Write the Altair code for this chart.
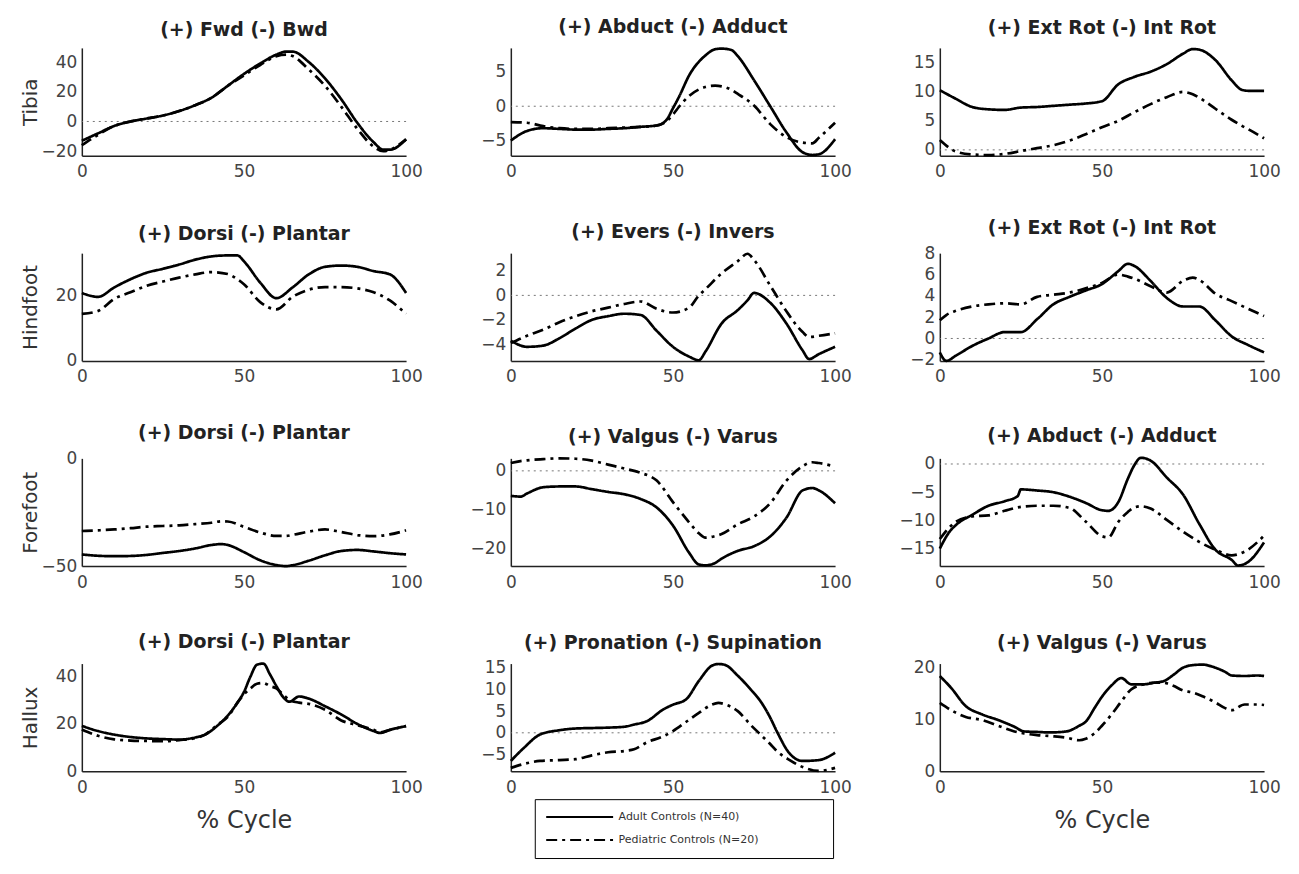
import altair as alt
import pandas as pd

SERIES = ["Adult Controls (N=40)", "Pediatric Controls (N=20)"]
X_TICKS = [0, 50, 100]
FONT = "DejaVu Sans"

# ---------------- Tibia ----------------
TIB_FB_X = [0, 5, 10, 15, 20, 25, 30, 35, 40, 45, 50, 55, 60, 63, 65, 70, 75, 80, 85, 90, 93, 95, 100]
TIB_FB_ADULT = [-13, -8, -3, 0, 2, 4, 7, 11, 16, 24, 32, 39, 45, 47, 47, 40, 29, 15, -1, -14, -19, -19, -12]
TIB_FB_PED = [-16, -9, -3, 0, 2, 4, 7, 11, 16, 24, 31, 38, 44, 45, 44, 35, 24, 10, -5, -17, -20, -19, -12]

TIB_AB_X = [0, 5, 10, 15, 20, 25, 30, 35, 40, 45, 48, 50, 52, 55, 60, 63, 65, 68, 70, 75, 80, 85, 90, 93, 95, 100]
TIB_AB_ADULT = [-5.0, -3.6, -3.2, -3.3, -3.4, -3.4, -3.3, -3.2, -3.0, -2.8, -2.0, -0.3, 1.5, 4.5, 7.4, 8.3, 8.4, 8.2, 7.3, 3.8, 0.0, -3.8, -6.7, -7.1, -7.0, -4.8]
TIB_AB_PED = [-2.3, -2.4, -2.9, -3.2, -3.3, -3.3, -3.2, -3.1, -3.0, -2.8, -2.2, -1.2, 0.0, 1.5, 2.8, 3.0, 2.9, 2.4, 1.8, 0.1, -2.6, -4.5, -5.3, -5.4, -4.6, -2.4]

TIB_ER_X = [0, 5, 10, 15, 20, 25, 30, 35, 40, 45, 50, 55, 60, 65, 70, 75, 78, 80, 85, 90, 93, 95, 100]
TIB_ER_ADULT = [10.3, 8.8, 7.4, 7.0, 6.9, 7.3, 7.4, 7.6, 7.8, 8.0, 8.4, 11.3, 12.6, 13.5, 14.8, 16.6, 17.4, 17.3, 15.5, 12.0, 10.4, 10.2, 10.2]
TIB_ER_PED = [1.7, -0.3, -0.8, -0.9, -0.7, -0.2, 0.3, 0.8, 1.6, 2.7, 3.9, 5.0, 6.5, 7.9, 9.1, 10.0, 9.6, 9.0, 7.1, 5.2, 4.2, 3.6, 2.0]

# ---------------- Hindfoot ----------------
HIN_DP_X = [0, 5, 10, 15, 20, 25, 30, 35, 40, 45, 48, 50, 55, 60, 65, 70, 75, 80, 85, 90, 95, 100]
HIN_DP_ADULT = [20.8, 19.6, 22.5, 25, 27, 28.2, 29.5, 31, 32, 32.3, 32.3, 30.5, 24, 19.2, 22.5, 26.5, 28.8, 29.2, 28.8, 27.5, 26.5, 20.8]
HIN_DP_PED = [14.4, 15.3, 19, 21, 23, 24.3, 25.5, 26.5, 27.2, 26.6, 25, 23.5, 18, 15.8, 19.6, 21.8, 22.6, 22.6, 22.2, 21, 18.5, 14.4]

HIN_EV_X = [0, 5, 10, 15, 20, 25, 30, 35, 40, 45, 50, 55, 58, 60, 65, 70, 73, 75, 80, 85, 90, 92, 95, 100]
HIN_EV_ADULT = [-3.7, -4.2, -4.1, -3.5, -2.7, -2.0, -1.7, -1.5, -1.6, -2.9, -4.2, -5.0, -5.3, -4.6, -2.3, -1.2, -0.4, 0.2, -0.6, -2.3, -4.5, -5.2, -4.8, -4.2]
HIN_EV_PED = [-3.9, -3.3, -2.8, -2.2, -1.7, -1.3, -1.0, -0.7, -0.5, -1.1, -1.4, -1.0, 0.0, 0.5, 1.8, 2.8, 3.4, 2.9, 0.8, -1.3, -3.0, -3.4, -3.3, -3.1]

HIN_ER_X = [0, 2, 5, 10, 15, 20, 25, 30, 35, 40, 45, 50, 55, 58, 60, 65, 70, 75, 78, 80, 85, 90, 95, 100]
HIN_ER_ADULT = [-1.3, -2.1, -1.6, -0.7, 0.0, 0.6, 0.6, 1.8, 3.2, 3.9, 4.5, 5.1, 6.3, 7.0, 6.8, 5.4, 3.8, 3.0, 3.0, 3.0, 1.7, 0.2, -0.6, -1.3]
HIN_ER_PED = [1.7, 2.2, 2.6, 3.0, 3.2, 3.3, 3.2, 3.9, 4.1, 4.3, 4.7, 5.2, 6.0, 5.8, 5.6, 4.9, 4.3, 5.4, 5.7, 5.5, 4.2, 3.5, 2.8, 2.1]

# ---------------- Forefoot ----------------
FOR_DP_X = [0, 5, 10, 15, 20, 25, 30, 35, 40, 43, 45, 50, 55, 60, 63, 65, 70, 75, 80, 85, 90, 95, 100]
FOR_DP_ADULT = [-44.6, -45.2, -45.4, -45.3, -44.8, -43.9, -43.0, -41.8, -40.2, -39.8, -40.2, -43.5, -47.3, -49.5, -50.0, -49.6, -47.5, -45.0, -43.0, -42.5, -43.2, -44.0, -44.6]
FOR_DP_PED = [-33.7, -33.4, -33.0, -32.4, -31.7, -31.4, -31.1, -30.5, -29.9, -29.2, -29.3, -31.8, -34.4, -36.0, -36.0, -35.5, -34.0, -33.0, -34.2, -35.6, -36.1, -35.3, -33.4]

FOR_VV_X = [0, 3, 5, 10, 15, 20, 25, 30, 35, 40, 45, 50, 55, 58, 60, 63, 65, 70, 75, 80, 85, 90, 93, 95, 100]
FOR_VV_ADULT = [-6.4, -6.6, -5.8, -4.2, -4.0, -4.0, -4.7, -5.4, -6.0, -7.2, -9.4, -14.0, -21.0, -24.0, -24.2, -23.6, -22.5, -20.5, -19.3, -16.8, -12.0, -5.0, -4.4, -5.0, -8.3]
FOR_VV_PED = [2.0, 2.5, 2.7, 3.0, 3.2, 3.1, 2.6, 1.6, 0.6, -0.5, -2.5, -8.0, -13.2, -16.0, -17.1, -16.7, -16.2, -13.7, -11.7, -8.3, -2.5, 1.2, 2.2, 2.0, 1.1]

FOR_AB_X = [0, 3, 5, 10, 15, 20, 24, 25, 30, 35, 40, 45, 50, 52, 55, 58, 60, 62, 65, 70, 75, 80, 85, 90, 92, 95, 100]
FOR_AB_ADULT = [-15.0, -12.0, -10.8, -9.0, -7.4, -6.6, -5.7, -4.5, -4.7, -5.0, -5.8, -6.9, -8.2, -8.3, -6.8, -2.6, -0.2, 1.1, 0.6, -2.4, -5.4, -10.6, -15.2, -17.0, -18.0, -17.4, -13.9]
FOR_AB_PED = [-13.3, -11.2, -10.2, -9.3, -9.1, -8.3, -7.7, -7.6, -7.4, -7.4, -7.8, -10.2, -12.8, -13.0, -10.3, -8.5, -7.7, -7.5, -7.9, -9.9, -12.0, -13.8, -15.2, -16.2, -16.0, -15.2, -12.7]

# ---------------- Hallux ----------------
HAL_DP_X = [0, 5, 10, 15, 20, 25, 30, 35, 38, 42, 45, 48, 50, 52, 54, 56, 58, 60, 62, 64, 67, 70, 75, 80, 85, 90, 92, 95, 100]
HAL_DP_ADULT = [19.2, 17, 15.5, 14.5, 13.9, 13.6, 13.4, 14.3, 15.5, 19.5, 23.5, 29, 33.5, 40, 45, 45.5, 41, 36, 31.5, 29.4, 31.6, 30.7, 27.5, 24, 20, 17, 16.2, 17.5, 19.1]
HAL_DP_PED = [17.7, 15, 13.5, 13, 12.8, 12.7, 13.2, 14, 15.5, 19.8, 23, 29, 32.5, 35, 37, 37.3, 36, 35, 32.5, 30.2, 29, 28.5, 26, 21.5, 19.5, 17.5, 16.5, 17.5, 19.1]

HAL_PS_X = [0, 4, 9, 15, 20, 25, 30, 35, 38, 42, 47, 50, 54, 58, 62, 64, 66, 70, 74, 77, 80, 82, 86, 90, 95, 100]
HAL_PS_ADULT = [-6.5, -3.5, -0.4, 0.6, 1.0, 1.1, 1.2, 1.4, 1.9, 2.7, 5.4, 6.5, 7.7, 12.0, 15.5, 15.9, 15.7, 13.2, 10.0, 7.3, 3.5, 0.4, -4.8, -6.5, -6.3, -4.6]
HAL_PS_PED = [-8.1, -7.2, -6.5, -6.3, -6.1, -5.2, -4.5, -4.2, -3.8, -2.2, -0.8, 0.4, 2.5, 4.6, 6.5, 6.9, 6.6, 5.0, 1.8, -0.4, -2.6, -4.2, -6.3, -7.9, -8.8, -8.1]

HAL_VV_X = [0, 3.5, 8, 13, 18, 23, 26, 30, 34, 39, 43, 45, 48, 50, 53, 56, 59, 63, 66, 69, 72, 75, 78, 81, 85, 88, 90, 94, 98, 100]
HAL_VV_ADULT = [18.4, 16.1, 12.6, 11.0, 9.9, 8.6, 7.7, 7.6, 7.5, 7.7, 8.8, 9.6, 12.5, 14.4, 16.6, 18.0, 16.8, 16.8, 17.1, 17.4, 18.6, 20.0, 20.5, 20.6, 20.0, 19.2, 18.5, 18.4, 18.5, 18.4]
HAL_VV_PED = [13.2, 11.8, 10.5, 9.9, 8.8, 7.7, 7.3, 7.0, 6.8, 6.5, 6.0, 6.3, 7.5, 8.8, 11.0, 13.5, 15.8, 16.8, 17.1, 17.1, 16.5, 15.6, 15.2, 14.5, 13.3, 12.2, 11.8, 12.9, 12.9, 12.8]

# ---------------- layout helpers ----------------
PANEL_W = 325
PANEL_H = 108

# blank (non-whitespace) padding so the legend box is as wide as the original one
LEGEND_PAD = "\u2800" * 8

legend = alt.Legend(
    title=None, orient="none", legendX=454, legendY=753, direction="vertical",
    symbolType="stroke", symbolSize=4500, symbolStrokeWidth=2, clipHeight=16,
    symbolStrokeColor="black", labelFont=FONT, labelFontSize=11, labelColor="#333",
    labelExpr="datum.label + '" + LEGEND_PAD + "'", labelLimit=400,
    strokeColor="black", fillColor="white", padding=10, rowPadding=7,
)

dash_scale = alt.Scale(domain=SERIES, range=[[1, 0], [11, 5, 3, 5]])


def make_panel(title, xs, adult, ped, domain, yticks, row_title=None, x_title=None, zero_line=True):
    df = pd.DataFrame({
        "x": list(xs) + list(xs),
        "y": list(adult) + list(ped),
        "series": [SERIES[0]] * len(xs) + [SERIES[1]] * len(xs),
    })
    yscale = alt.Scale(domain=domain, nice=False, zero=False)
    xscale = alt.Scale(domain=[0, 100], nice=False)
    if row_title:
        yaxis = alt.Axis(values=yticks, title=row_title, titleX=-51, titleY=PANEL_H / 2,
                         titleBaseline="middle", titleAlign="center", titleFontSize=20,
                         titleFontWeight="normal", titleColor="#333")
    else:
        yaxis = alt.Axis(values=yticks, title=None)
    if x_title:
        xaxis = alt.Axis(values=X_TICKS, title=x_title, titleFontSize=24, titlePadding=13,
                         titleFontWeight="normal", titleColor="#333")
    else:
        xaxis = alt.Axis(values=X_TICKS, title=None)

    lines = alt.Chart(df).mark_line(color="black", strokeWidth=2.7, interpolate="monotone").encode(
        x=alt.X("x:Q", scale=xscale, axis=xaxis),
        y=alt.Y("y:Q", scale=yscale, axis=yaxis),
        strokeDash=alt.StrokeDash("series:N", scale=dash_scale, legend=legend, sort=SERIES),
    )
    layers = []
    if zero_line:
        zdf = pd.DataFrame({"y": [0]})
        rule = alt.Chart(zdf).mark_rule(color="#777", strokeWidth=1, strokeDash=[2, 4]).encode(
            y=alt.Y("y:Q", scale=yscale, axis=yaxis)
        )
        layers.append(rule)
    layers.append(lines)
    return alt.layer(*layers).properties(
        width=PANEL_W, height=PANEL_H,
        title=alt.TitleParams(title, anchor="middle", frame="group"),
    )


panels = [
    make_panel("(+) Fwd (-) Bwd", TIB_FB_X, TIB_FB_ADULT, TIB_FB_PED, [-23, 49.5], [-20, 0, 20, 40], row_title="Tibia"),
    make_panel("(+) Abduct (-) Adduct", TIB_AB_X, TIB_AB_ADULT, TIB_AB_PED, [-7.2, 8.5], [-5, 0, 5]),
    make_panel("(+) Ext Rot (-) Int Rot", TIB_ER_X, TIB_ER_ADULT, TIB_ER_PED, [-1.0, 17.6], [0, 5, 10, 15]),
    make_panel("(+) Dorsi (-) Plantar", HIN_DP_X, HIN_DP_ADULT, HIN_DP_PED, [0, 33], [0, 20], row_title="Hindfoot", zero_line=False),
    make_panel("(+) Evers (-) Invers", HIN_EV_X, HIN_EV_ADULT, HIN_EV_PED, [-5.35, 3.45], [-4, -2, 0, 2]),
    make_panel("(+) Ext Rot (-) Int Rot", HIN_ER_X, HIN_ER_ADULT, HIN_ER_PED, [-2.1, 8.0], [-2, 0, 2, 4, 6, 8]),
    make_panel("(+) Dorsi (-) Plantar", FOR_DP_X, FOR_DP_ADULT, FOR_DP_PED, [-50, 0], [-50, 0], row_title="Forefoot", zero_line=False),
    make_panel("(+) Valgus (-) Varus", FOR_VV_X, FOR_VV_ADULT, FOR_VV_PED, [-24.4, 3.2], [-20, -10, 0]),
    make_panel("(+) Abduct (-) Adduct", FOR_AB_X, FOR_AB_ADULT, FOR_AB_PED, [-18.1, 1.0], [-15, -10, -5, 0]),
    make_panel("(+) Dorsi (-) Plantar", HAL_DP_X, HAL_DP_ADULT, HAL_DP_PED, [0, 45.5], [0, 20, 40], row_title="Hallux", x_title="% Cycle", zero_line=False),
    make_panel("(+) Pronation (-) Supination", HAL_PS_X, HAL_PS_ADULT, HAL_PS_PED, [-8.9, 16.0], [-5, 0, 5, 10, 15]),
    make_panel("(+) Valgus (-) Varus", HAL_VV_X, HAL_VV_ADULT, HAL_VV_PED, [0, 20.8], [0, 10, 20], x_title="% Cycle", zero_line=False),
]

chart = alt.concat(
    *panels, columns=3, spacing={"row": 97.7, "column": 105}, bounds="flush"
).properties(
    padding={"left": 12, "top": 8, "right": 10, "bottom": 10},
    background="white",
).configure_view(
    stroke="transparent"
).configure_axis(
    domainColor="#222", domainWidth=1.5, ticks=False, grid=False,
    labelFont=FONT, labelFontSize=17, labelColor="#444", labelPadding=5,
    titleFont=FONT, labelFlush=False,
).configure_axisX(
    labelPadding=8,
).configure_title(
    font=FONT, fontSize=19, fontWeight="bold", color="#222", offset=6,
)

chart.save("out.html", embed_options={"renderer": "svg", "actions": False})
